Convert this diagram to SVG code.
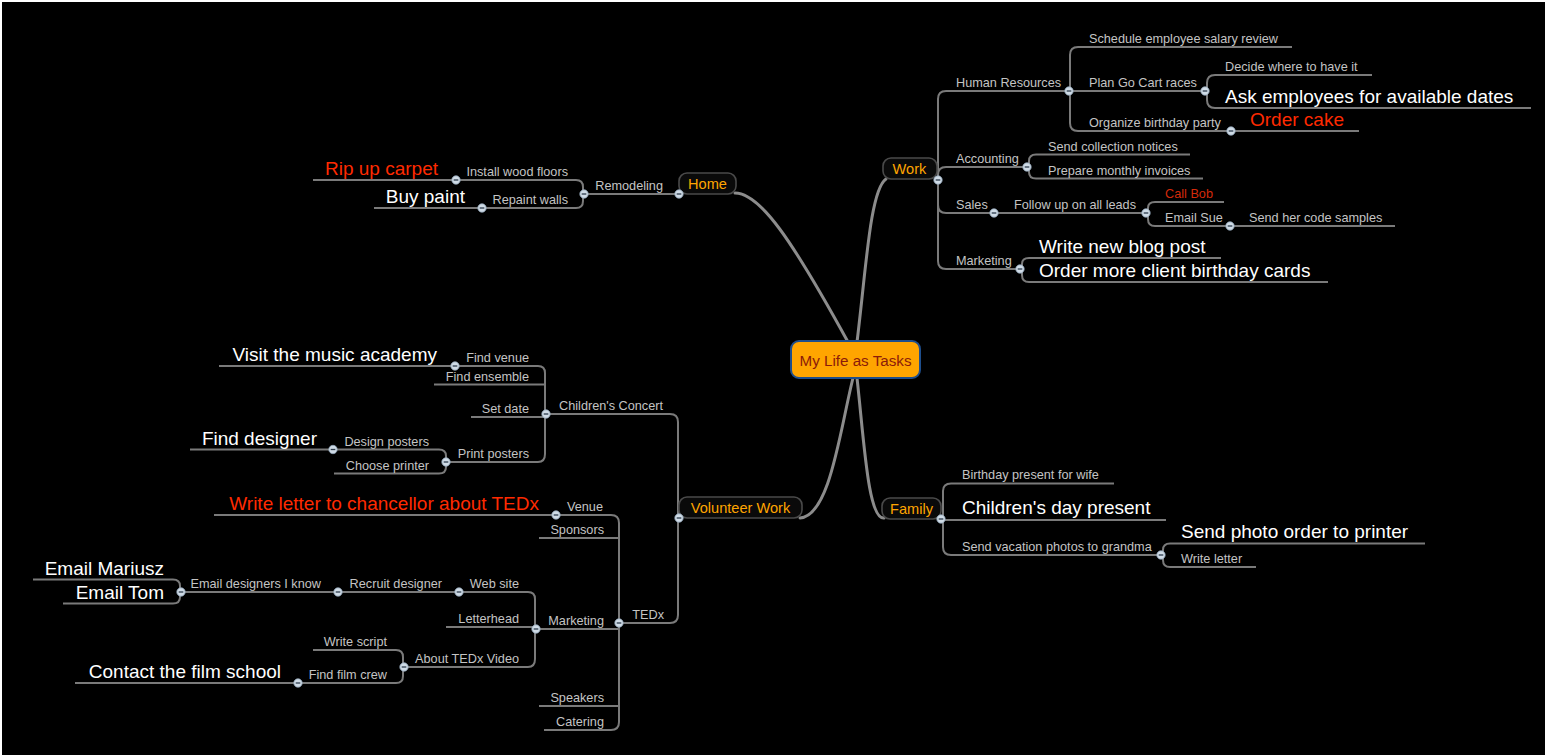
<svg xmlns="http://www.w3.org/2000/svg" width="1545" height="755" viewBox="0 0 1545 755">
<defs>
<style>
.bg{fill:#000}
.main{fill:none;stroke:#8c8c8c;stroke-width:3;stroke-linecap:round}
.ln{fill:none;stroke:#7a7a7a;stroke-width:2}
.box{fill:#0a0a0a;stroke:#4a4a4a;stroke-width:1.6}
.center{fill:#FFA500;stroke:#1E4E8C;stroke-width:2}
.t{font-family:"Liberation Sans",Arial,sans-serif;font-size:12.7px;fill:#c4c4c4}
.b{font-family:"Liberation Sans",Arial,sans-serif;font-size:19px;fill:#ffffff}
.r{fill:#ff2a00}
.rs{fill:#d42a0a}
.e{text-anchor:end}
.bl{font-family:"Liberation Sans",Arial,sans-serif;font-size:14.6px;fill:#FFA500;text-anchor:middle}
.ct{font-family:"Liberation Sans",Arial,sans-serif;font-size:15.2px;fill:#8B1A0A;text-anchor:middle}
.dot circle{fill:#cfdbe6;stroke:#8fa3b6;stroke-width:0.8}
.dot path{stroke:#2c3c4c;stroke-width:1.3}
</style>
<g id="dotshape" class="dot"><circle cx="0" cy="0" r="4.2"/><path d="M-2.3,0H2.3"/></g>
</defs>
<rect width="1545" height="755" fill="#ffffff"/>
<rect class="bg" x="2" y="2" width="1543" height="753"/>

<g id="connectors">
<!-- main branches -->
<path class="main" d="M735,193 C760,193 792,240 848,342"/>
<path class="main" d="M857,342 C866,270 870,190 886,179"/>
<path class="main" d="M853,378 C840,430 830,516 800,518"/>
<path class="main" d="M857,378 C864,440 868,520 884,518"/>

<!-- Work -->
<path class="ln" d="M938,180 V99 Q938,91 946,91 H1069"/>
<path class="ln" d="M938,180 V175 Q938,167 946,167 H1027"/>
<path class="ln" d="M938,180 V205 Q938,213 946,213 H1146"/>
<path class="ln" d="M938,180 V261 Q938,269 946,269 H1020"/>
<!-- HR -->
<path class="ln" d="M1070,91 V55 Q1070,47 1078,47 H1292"/>
<path class="ln" d="M1069,91 H1205"/>
<path class="ln" d="M1070,91 V123 Q1070,131 1078,131 H1359"/>
<!-- Plan Go Cart -->
<path class="ln" d="M1207,91 V83 Q1207,75 1215,75 H1372"/>
<path class="ln" d="M1207,91 V100 Q1207,108 1215,108 H1531"/>
<!-- Accounting -->
<path class="ln" d="M1029,167 V161 Q1029,154.5 1036,154.5 H1190"/>
<path class="ln" d="M1029,167 V172 Q1029,178.5 1036,178.5 H1203"/>
<!-- Follow up -->
<path class="ln" d="M1148,213 V208 Q1148,202 1155,202 H1224"/>
<path class="ln" d="M1148,213 V219 Q1148,226 1155,226 H1395"/>
<!-- Work Marketing -->
<path class="ln" d="M1022,269 V264 Q1022,258 1029,258 H1221"/>
<path class="ln" d="M1022,269 V275 Q1022,282 1029,282 H1328"/>

<!-- Home -->
<path class="ln" d="M679,194 H584"/>
<path class="ln" d="M583,194 V187 Q583,180 576,180 H313"/>
<path class="ln" d="M583,194 V201 Q583,208 576,208 H374"/>

<!-- Volunteer Work -->
<path class="ln" d="M678,518 V422 Q678,414 670,414 H546"/>
<path class="ln" d="M678,518 V615 Q678,623 670,623 H619"/>
<!-- Children's Concert -->
<path class="ln" d="M545,414 V373 Q545,366 538,366 H219"/>
<path class="ln" d="M545,384.5 H434"/>
<path class="ln" d="M545,417 H471"/>
<path class="ln" d="M545,414 V454 Q545,462 538,462 H446"/>
<!-- Print posters -->
<path class="ln" d="M446,462 V456 Q446,449.5 439,449.5 H190"/>
<path class="ln" d="M446,462 V467 Q446,473.5 439,473.5 H334"/>
<!-- TEDx -->
<path class="ln" d="M619,623 V523 Q619,515 611,515 H214"/>
<path class="ln" d="M619,538 H539"/>
<path class="ln" d="M619,629 H536"/>
<path class="ln" d="M619,706 H539"/>
<path class="ln" d="M619,623 V722 Q619,730 611,730 H544"/>
<!-- TEDx Marketing -->
<path class="ln" d="M535,629 V599 Q535,592 528,592 H181"/>
<path class="ln" d="M535,627 H446"/>
<path class="ln" d="M535,629 V659 Q535,667 528,667 H404"/>
<!-- Email designers -->
<path class="ln" d="M180,592 V586 Q180,579.5 173,579.5 H33"/>
<path class="ln" d="M180,592 V597 Q180,603.5 173,603.5 H63"/>
<!-- About TEDx Video -->
<path class="ln" d="M403,667 V657 Q403,650 396,650 H313"/>
<path class="ln" d="M403,667 V676 Q403,683 396,683 H75"/>

<!-- Family -->
<path class="ln" d="M943,519 V491 Q943,483.5 951,483.5 H1114"/>
<path class="ln" d="M941,520 H1166"/>
<path class="ln" d="M943,519 V547 Q943,555 951,555 H1161"/>
<!-- Send vacation -->
<path class="ln" d="M1163,555 V550 Q1163,543.5 1170,543.5 H1425"/>
<path class="ln" d="M1163,555 V560 Q1163,567 1170,567 H1256"/>
</g>

<g id="node-center">
<rect class="center" x="791" y="341" width="129" height="37" rx="8"/>
<text class="ct" x="855.5" y="366">My Life as Tasks</text>
</g>

<g id="node-home"><rect class="box" x="679" y="173" width="57" height="21" rx="8"/><text class="bl" x="707.5" y="188.5">Home</text></g>
<g id="node-work"><rect class="box" x="883" y="158" width="54" height="21" rx="8"/><text class="bl" x="909.5" y="174">Work</text></g>
<g id="node-volunteer"><rect class="box" x="679" y="497" width="123" height="21" rx="8"/><text class="bl" x="740.5" y="513">Volunteer Work</text></g>
<g id="node-family"><rect class="box" x="882" y="498" width="59" height="21" rx="8"/><text class="bl" x="911.5" y="513.5">Family</text></g>

<!-- Work subtree -->
<g id="node-hr"><text class="t" x="956" y="87">Human Resources</text></g>
<g id="node-schedule"><text class="t" x="1089" y="43">Schedule employee salary review</text></g>
<g id="node-gocart"><text class="t" x="1089" y="87">Plan Go Cart races</text></g>
<g id="node-decide"><text class="t" x="1225" y="71">Decide where to have it</text></g>
<g id="node-ask"><text class="b" x="1225" y="103">Ask employees for available dates</text></g>
<g id="node-party"><text class="t" x="1089" y="127">Organize birthday party</text></g>
<g id="node-cake"><text class="b r" x="1250" y="126">Order cake</text></g>
<g id="node-accounting"><text class="t" x="956" y="163">Accounting</text></g>
<g id="node-collection"><text class="t" x="1048" y="150.5">Send collection notices</text></g>
<g id="node-invoices"><text class="t" x="1048" y="174.5">Prepare monthly invoices</text></g>
<g id="node-sales"><text class="t" x="956" y="209">Sales</text></g>
<g id="node-followup"><text class="t" x="1014" y="209">Follow up on all leads</text></g>
<g id="node-callbob"><text class="t rs" x="1165" y="198">Call Bob</text></g>
<g id="node-emailsue"><text class="t" x="1165" y="222">Email Sue</text></g>
<g id="node-codesamples"><text class="t" x="1249" y="222">Send her code samples</text></g>
<g id="node-wmarketing"><text class="t" x="956" y="265">Marketing</text></g>
<g id="node-blog"><text class="b" x="1039" y="252.5">Write new blog post</text></g>
<g id="node-cards"><text class="b" x="1039" y="276.5">Order more client birthday cards</text></g>

<!-- Home subtree -->
<g id="node-remodeling"><text class="t e" x="663" y="189.5">Remodeling</text></g>
<g id="node-floors"><text class="t e" x="568" y="176">Install wood floors</text></g>
<g id="node-carpet"><text class="b r e" x="438" y="175">Rip up carpet</text></g>
<g id="node-repaint"><text class="t e" x="568" y="204">Repaint walls</text></g>
<g id="node-paint"><text class="b e" x="465" y="203">Buy paint</text></g>

<!-- Volunteer subtree -->
<g id="node-concert"><text class="t e" x="663" y="410">Children's Concert</text></g>
<g id="node-venue1"><text class="t e" x="529" y="362">Find venue</text></g>
<g id="node-academy"><text class="b e" x="437" y="361">Visit the music academy</text></g>
<g id="node-ensemble"><text class="t e" x="529" y="380.5">Find ensemble</text></g>
<g id="node-setdate"><text class="t e" x="529" y="413">Set date</text></g>
<g id="node-print"><text class="t e" x="529" y="458">Print posters</text></g>
<g id="node-design"><text class="t e" x="429" y="445.5">Design posters</text></g>
<g id="node-finddesigner"><text class="b e" x="317" y="445">Find designer</text></g>
<g id="node-printer"><text class="t e" x="429" y="469.5">Choose printer</text></g>
<g id="node-tedx"><text class="t e" x="664" y="619">TEDx</text></g>
<g id="node-venue2"><text class="t e" x="603" y="511">Venue</text></g>
<g id="node-chancellor"><text class="b r e" x="539" y="510">Write letter to chancellor about TEDx</text></g>
<g id="node-sponsors"><text class="t e" x="604" y="534">Sponsors</text></g>
<g id="node-tmarketing"><text class="t e" x="604" y="625">Marketing</text></g>
<g id="node-website"><text class="t e" x="519" y="588">Web site</text></g>
<g id="node-recruit"><text class="t e" x="442" y="588">Recruit designer</text></g>
<g id="node-emaildesigners"><text class="t e" x="321" y="588">Email designers I know</text></g>
<g id="node-mariusz"><text class="b e" x="164" y="575">Email Mariusz</text></g>
<g id="node-tom"><text class="b e" x="164" y="598.5">Email Tom</text></g>
<g id="node-letterhead"><text class="t e" x="519" y="623">Letterhead</text></g>
<g id="node-video"><text class="t e" x="519" y="663">About TEDx Video</text></g>
<g id="node-script"><text class="t e" x="387" y="646">Write script</text></g>
<g id="node-filmcrew"><text class="t e" x="387" y="679">Find film crew</text></g>
<g id="node-filmschool"><text class="b e" x="281" y="678">Contact the film school</text></g>
<g id="node-speakers"><text class="t e" x="604" y="702">Speakers</text></g>
<g id="node-catering"><text class="t e" x="604" y="726">Catering</text></g>

<!-- Family subtree -->
<g id="node-wife"><text class="t" x="962" y="479">Birthday present for wife</text></g>
<g id="node-childday"><text class="b" x="962" y="514">Children's day present</text></g>
<g id="node-vacation"><text class="t" x="962" y="551">Send vacation photos to grandma</text></g>
<g id="node-photoorder"><text class="b" x="1181" y="538">Send photo order to printer</text></g>
<g id="node-writeletter"><text class="t" x="1181" y="562.5">Write letter</text></g>

<g id="collapse-dots">
<use href="#dotshape" x="938" y="180"/>
<use href="#dotshape" x="1069" y="91"/>
<use href="#dotshape" x="1205" y="91"/>
<use href="#dotshape" x="1231" y="131"/>
<use href="#dotshape" x="1027" y="167"/>
<use href="#dotshape" x="994" y="213"/>
<use href="#dotshape" x="1146" y="213"/>
<use href="#dotshape" x="1230" y="226"/>
<use href="#dotshape" x="1020" y="269"/>
<use href="#dotshape" x="679" y="194"/>
<use href="#dotshape" x="584" y="194"/>
<use href="#dotshape" x="456" y="180"/>
<use href="#dotshape" x="482" y="208"/>
<use href="#dotshape" x="679" y="518"/>
<use href="#dotshape" x="546" y="414"/>
<use href="#dotshape" x="455" y="366"/>
<use href="#dotshape" x="446" y="462"/>
<use href="#dotshape" x="333" y="449.5"/>
<use href="#dotshape" x="619" y="623"/>
<use href="#dotshape" x="556" y="515"/>
<use href="#dotshape" x="536" y="629"/>
<use href="#dotshape" x="459" y="592"/>
<use href="#dotshape" x="338" y="592"/>
<use href="#dotshape" x="181" y="592"/>
<use href="#dotshape" x="404" y="667"/>
<use href="#dotshape" x="298" y="683"/>
<use href="#dotshape" x="941" y="519"/>
<use href="#dotshape" x="1161" y="555"/>
</g>
</svg>
